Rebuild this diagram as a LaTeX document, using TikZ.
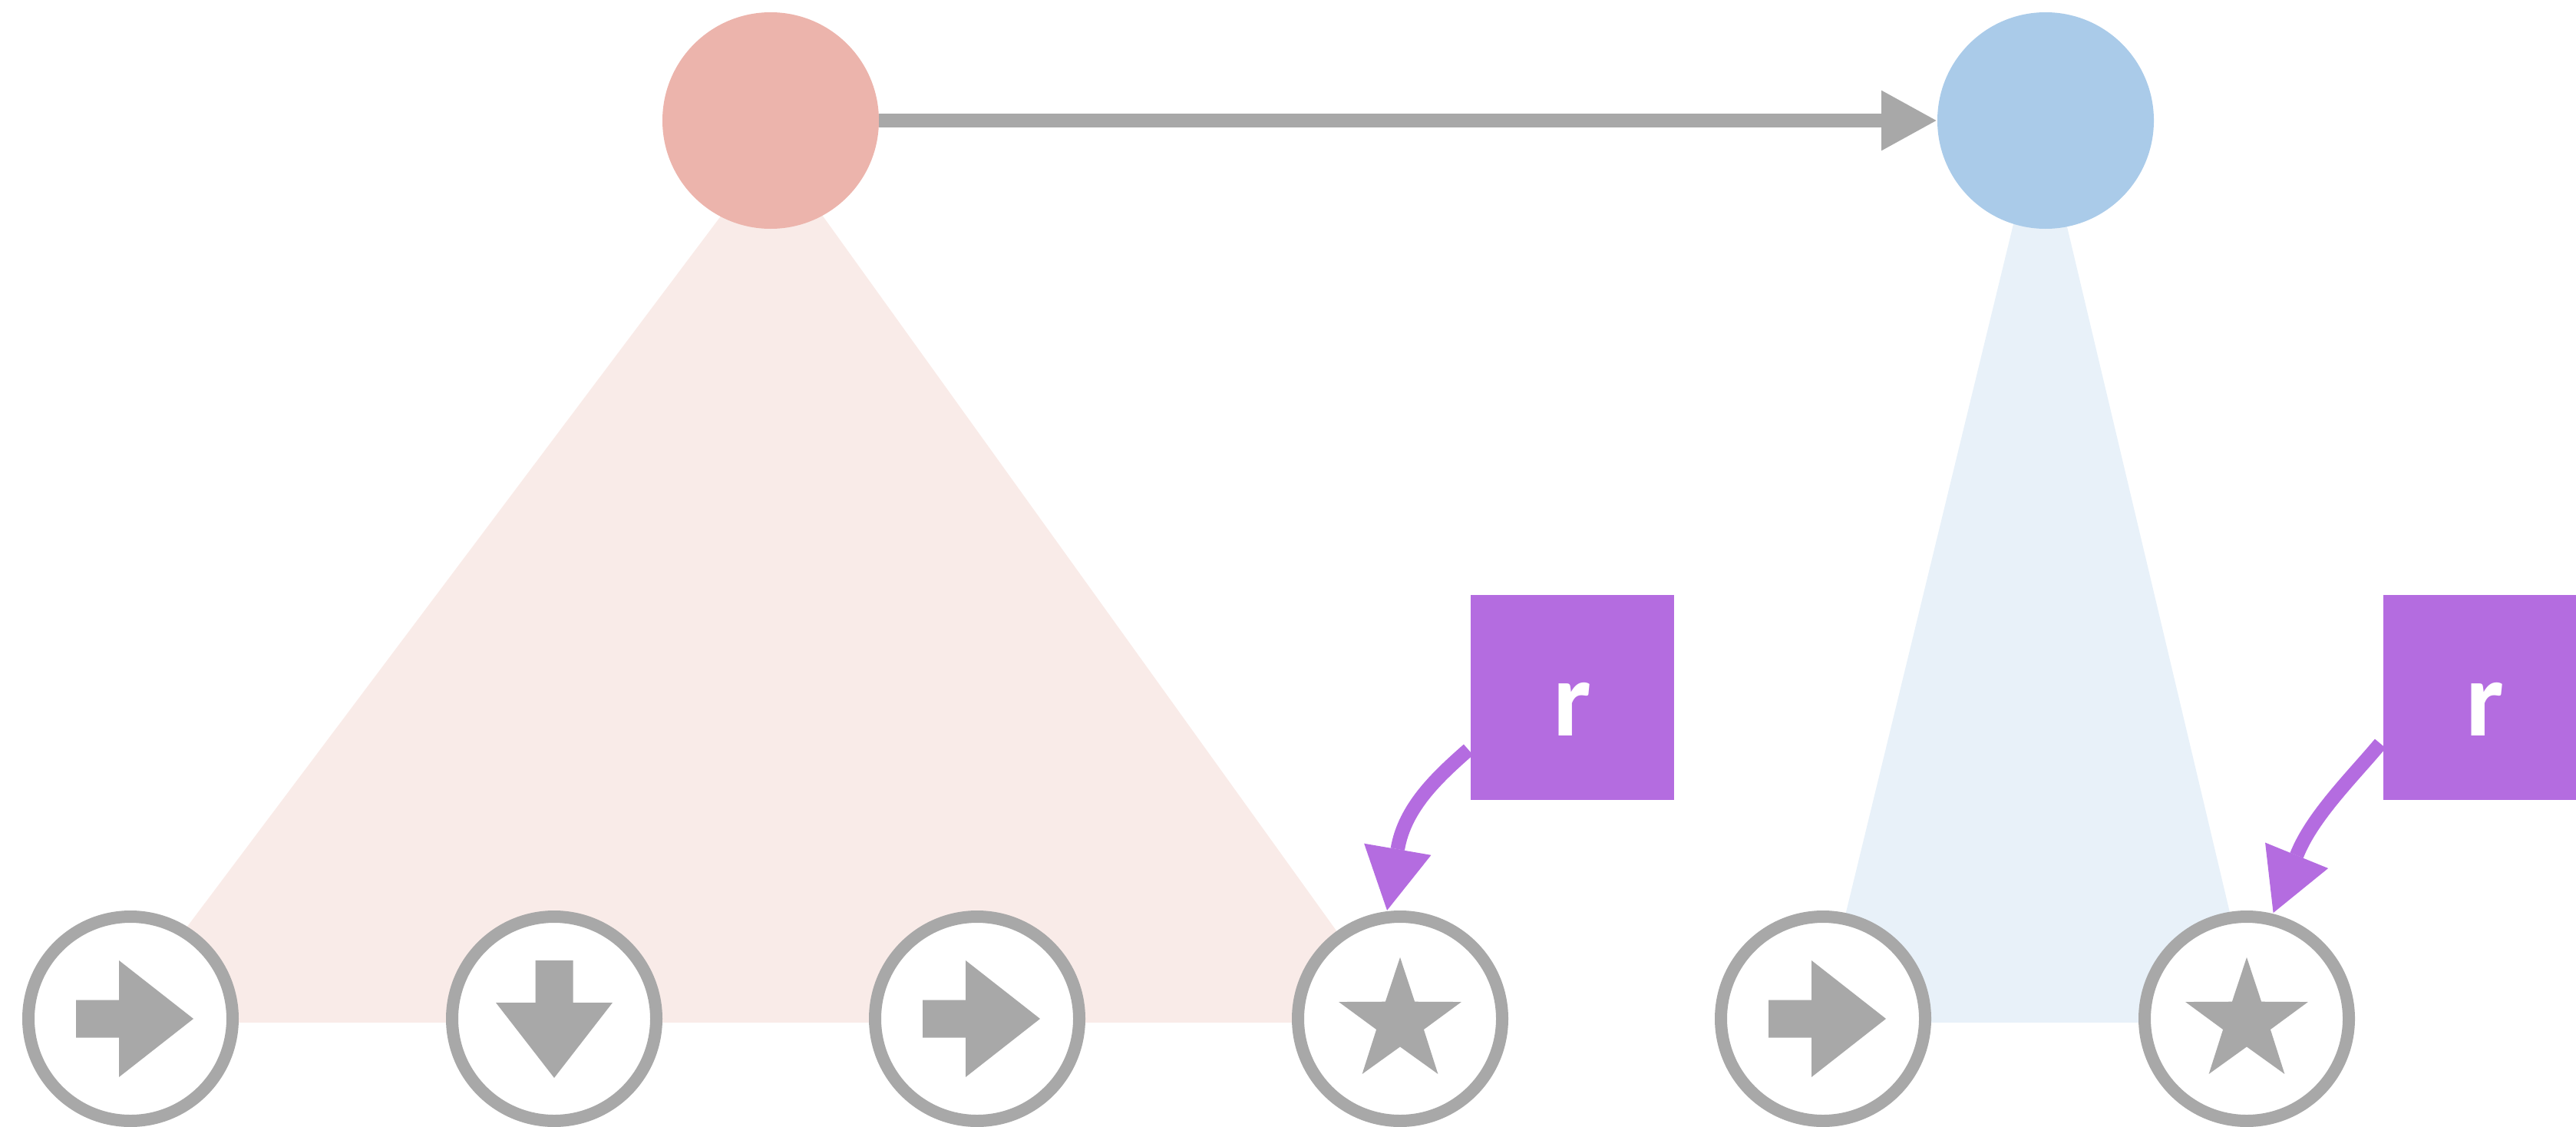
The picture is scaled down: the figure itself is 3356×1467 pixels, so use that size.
\documentclass[tikz,border=0pt]{standalone}
\usepackage{fontspec}
\newfontfamily\rfont{Carlito}
\usetikzlibrary{arrows.meta,calc}
\definecolor{gline}{RGB}{168,168,168}
\definecolor{pred}{RGB}{236,180,172}
\definecolor{pblue}{RGB}{170,203,233}
\definecolor{tred}{RGB}{249,235,232}
\definecolor{tblue}{RGB}{232,241,249}
\definecolor{purp}{RGB}{180,108,224}
\tikzset{
  parent/.style={circle,minimum size=282pt,inner sep=0pt,outer sep=0pt},
  leaf/.style={circle,draw=gline,line width=16pt,fill=white,minimum size=266pt,inner sep=0pt},
  rbox/.style={fill=purp,minimum width=265pt,minimum height=267pt,inner sep=0pt,outer sep=0pt,
    text=white,font=\rfont\bfseries\fontsize{140}{140}\selectfont,text height=99pt,text depth=0pt},
  garrow/.style={draw=gline,line width=18.5pt,-{Triangle[length=73pt,width=73pt]}},
  pline/.style={draw=purp,line width=18.5pt},
  ptip/.style={draw=purp,line width=18.5pt,-{Triangle[length=82pt,width=83pt]}},
  glyph/.style={fill=gline},
  pics/rarr/.style={code={\fill[glyph] (-71,-24.5) -- (-15,-24.5) -- (-15,-76) -- (82,0) -- (-15,76) -- (-15,24.5) -- (-71,24.5) -- cycle;}},
  pics/darr/.style={code={\fill[glyph] (-24.5,-76) -- (24.5,-76) -- (24.5,-21) -- (76,-21) -- (0,77) -- (-76,-21) -- (-24.5,-21) -- cycle;}},
  pics/starglyph/.style={code={\fill[glyph,shift={(0,4)}] (-90:84) -- (-54:32.5) -- (-18:84) -- (18:32.5) -- (54:84) -- (90:32.5) -- (126:84) -- (162:32.5) -- (198:84) -- (234:32.5) -- cycle;}}
}
\begin{document}
\begin{tikzpicture}[x=1pt,y=-1pt]
\useasboundingbox (0,0) rectangle (3356,1467);
% subtree triangles
\fill[tred] (1007,191) -- (150,1332) -- (1827,1332) -- cycle;
\fill[tblue] (2658,148) -- (2370,1332) -- (2939,1332) -- cycle;
% parents
\node[parent,fill=pred] (p1) at (1004,157) {};
\node[parent,fill=pblue] (p2) at (2665,157) {};
\draw[garrow] (p1) -- (p2);
% leaves
\node[leaf] (l1) at (170,1327) {};
\node[leaf] (l2) at (722,1327) {};
\node[leaf] (l3) at (1273,1327) {};
\node[leaf] (l4) at (1824,1327) {};
\node[leaf] (l5) at (2375,1327) {};
\node[leaf] (l6) at (2927,1327) {};
\pic at (l1) {rarr};
\pic at (l2) {darr};
\pic at (l3) {rarr};
\pic at (l4) {starglyph};
\pic at (l5) {rarr};
\pic at (l6) {starglyph};
% r boxes
\node[rbox] (r1) at (2048.5,908.5) {r};
\node[rbox] (r2) at (3237.5,908.5) {r};
% curved arrows from the r boxes to the star leaves
\coordinate (h1) at ($(l4.97)+(14,-81)$);
\coordinate (h2) at ($(l6.76)+(31,-76)$);
\draw[pline] ($(r1.west)+(-3,68)$) .. controls +(-41,36) and +(9,-54) .. (h1);
\draw[ptip] (h1) -- (l4.97);
\draw[pline] ($(r2.west)+(-4,60)$) .. controls +(-35,42) and +(20,-51) .. (h2);
\draw[ptip] (h2) -- (l6.76);
\end{tikzpicture}
\end{document}
